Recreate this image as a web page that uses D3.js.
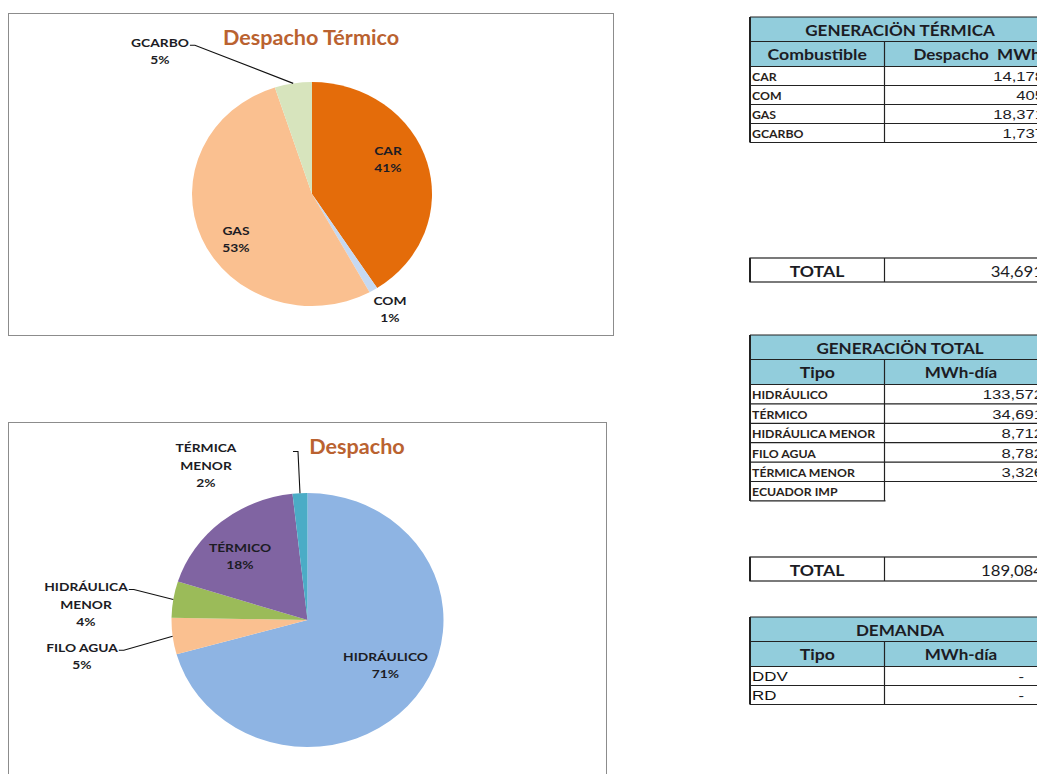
<!DOCTYPE html>
<html>
<head>
<meta charset="utf-8">
<script src="https://cdn.jsdelivr.net/npm/d3@7"></script>
<style>
  body { margin: 0; background: #fff; }
  svg { display: block; }
</style>
</head>
<body>
<div id="chart"></div>
<script>
// ---- data ----
const thermalFuels = ["CAR", "COM", "GAS", "GCARBO"];
const thermalMWh = [14178, 405, 18371, 1737];
const thermalPct = ["41%", "1%", "53%", "5%"];
const thermalTotal = "34,691";

// pie order as drawn (clockwise from 12 o'clock)
const dispatchTypes = ["HIDRÁULICO", "FILO AGUA", "HIDRÁULICA MENOR", "TÉRMICO", "TÉRMICA MENOR"];
const dispatchMWh = [133572, 8782, 8712, 34691, 3326];
const dispatchPct = ["71%", "5%", "4%", "18%", "2%"];

// table order
const genTypes = ["HIDRÁULICO", "TÉRMICO", "HIDRÁULICA MENOR", "FILO AGUA", "TÉRMICA MENOR", "ECUADOR IMP"];
const genMWh = [133572, 34691, 8712, 8782, 3326, null];
const genTotal = "189,084";

const demandTypes = ["DDV", "RD"];
const demandMWh = ["-", "-"];

// ---- setup ----
const width = 1037, height = 774;
const svg = d3.select("#chart").append("svg")
  .attr("width", width).attr("height", height)
  .attr("viewBox", [0, 0, width, height]);

const calibri = "Lato, 'Open Sans', sans-serif";
const arial = "'Liberation Sans', Arial, sans-serif";
const ink = "#1c1c24";
const titleColor = "#BA6230";
const fmt = d3.format(",");

// text helper, sx stretches horizontally
function put(g, x, y, s, o = {}) {
  return g.append("text")
    .attr("transform", `translate(${x},${y}) scale(${o.sx || 1},1)`)
    .attr("text-anchor", o.anchor || "middle")
    .attr("dominant-baseline", "central")
    .style("font-family", o.font || calibri)
    .style("font-weight", o.weight || "bold")
    .style("font-size", (o.size || 12) + "px")
    .style("white-space", "pre")
    .attr("fill", o.fill || ink)
    .text(s);
}

// ---- pie charts ----
function pieChart(cfg) {
  const g = svg.append("g");
  g.append("rect")
    .attr("x", cfg.box[0] + 0.5).attr("y", cfg.box[1] + 0.5)
    .attr("width", cfg.box[2]).attr("height", cfg.box[3])
    .attr("fill", "#fff").attr("stroke", "#8c8c8c");

  put(g, cfg.titlePos[0], cfg.titlePos[1], cfg.title, { size: 20, fill: titleColor, sx: 1.08 });

  const pie = d3.pie().sort(null).value(d => d)(cfg.values);
  const arc = d3.arc().innerRadius(0).outerRadius(cfg.rx);
  const color = d3.scaleOrdinal().domain(cfg.names).range(cfg.colors);
  const ky = cfg.ry / cfg.rx;

  g.append("g")
    .attr("transform", `translate(${cfg.cx},${cfg.cy}) scale(1,${ky})`)
    .selectAll("path")
    .data(pie)
    .join("path")
    .attr("d", arc)
    .attr("fill", (d, i) => color(cfg.names[i]));

  const lh = 17.5;
  pie.forEach((d, i) => {
    const name = cfg.names[i];
    const lines = (cfg.split[name] || [name]).slice();
    lines.push(cfg.pct[i]);
    const pos = cfg.labelAt[name];
    const lx = cfg.cx + pos[0], ly = cfg.cy + pos[1];
    const y0 = ly - (lines.length - 1) * lh / 2;
    let firstW = 0;
    lines.forEach((s, j) => {
      const t = put(g, lx, y0 + j * lh, s, { size: 12, sx: 1.15 });
      if (j === 0) firstW = t.node().getComputedTextLength() * 1.15;
    });
    if (cfg.leader[name]) {
      const mid = (d.startAngle + d.endAngle) / 2;
      const ex = cfg.cx + cfg.rx * Math.sin(mid);
      const ey = cfg.cy - cfg.ry * Math.cos(mid);
      let pts;
      if (cfg.leader[name] === "up") {
        pts = [[ex - 7, y0 + 4], [ex - 2, y0 + 4], [ex, ey]];
      } else {
        const sx0 = lx + firstW / 2 + 1;
        pts = [[sx0, y0 + 3], [sx0 + 5, y0 + 3], [ex, ey]];
      }
      g.append("path")
        .attr("d", d3.line()(pts))
        .attr("fill", "none").attr("stroke", "#111").attr("stroke-width", 1.1);
    }
  });
}

pieChart({
  box: [8, 13, 605, 322],
  title: "Despacho Térmico", titlePos: [311, 37],
  cx: 312, cy: 194, rx: 120, ry: 112,
  names: thermalFuels, values: thermalMWh, pct: thermalPct,
  colors: ["#E46C0A", "#C6D9F1", "#FAC090", "#D7E4BD"],
  split: {},
  labelAt: { CAR: [76, -35], COM: [78, 115], GAS: [-76, 45], GCARBO: [-152, -143] },
  leader: { GCARBO: "side" }
});

pieChart({
  box: [8, 422, 598, 380],
  title: "Despacho", titlePos: [357, 446],
  cx: 307.5, cy: 620, rx: 136, ry: 127,
  names: dispatchTypes, values: dispatchMWh, pct: dispatchPct,
  colors: ["#8EB4E3", "#FAC090", "#9BBB59", "#8064A2", "#4BACC6"],
  split: { "HIDRÁULICA MENOR": ["HIDRÁULICA", "MENOR"], "TÉRMICA MENOR": ["TÉRMICA", "MENOR"] },
  labelAt: {
    "HIDRÁULICO": [78, 45], "FILO AGUA": [-225.5, 36], "HIDRÁULICA MENOR": [-221.5, -16],
    "TÉRMICO": [-67.5, -64], "TÉRMICA MENOR": [-101.5, -155]
  },
  leader: { "FILO AGUA": "side", "HIDRÁULICA MENOR": "side", "TÉRMICA MENOR": "up" }
});

// ---- tables ----
const x0 = 750, xDiv = 884.5, xR = 1060;
const headFill = "#92CDDC";
const tg = svg.append("g");

function hline(y, a, b) {
  tg.append("line").attr("x1", a).attr("x2", b).attr("y1", y).attr("y2", y)
    .attr("stroke", "#222").attr("stroke-width", 1.2);
}
function vline(x, a, b, w = 1.2) {
  tg.append("line").attr("x1", x).attr("x2", x).attr("y1", a).attr("y2", b)
    .attr("stroke", "#222").attr("stroke-width", w);
}

function dataTable(t) {
  const yH = t.top, ySub = yH + 24.5, yRows = ySub + 25;
  tg.append("rect").attr("x", x0).attr("y", yH).attr("width", xR - x0).attr("height", yRows - yH)
    .attr("fill", headFill);
  put(tg, 900, yH + 12.5, t.title, { size: 15.5, sx: 1.1 });
  put(tg, (x0 + xDiv) / 2, ySub + 12.5, t.cols[0], { size: 15.5, sx: 1.14 });
  put(tg, t.col2x, ySub + 12.5, t.cols[1], { size: 15.5, sx: 1.1 });

  const y = d3.scaleBand().domain(d3.range(t.labels.length))
    .range([yRows, yRows + t.rowH * t.labels.length]);
  hline(yH, x0, xR); hline(ySub, x0, xR); hline(yRows, x0, xR);
  vline(xDiv, ySub, yRows);
  t.labels.forEach((s, i) => {
    const yy = y(i), filled = t.values[i] != null;
    put(tg, x0 + 2, yy + y.bandwidth() / 2 + 0.5, s,
      { size: t.labelSize || 11, anchor: "start", font: t.labelFont || calibri,
        weight: t.labelWeight || "bold", sx: t.labelSx || 1.12, fill: t.labelFill || "#2a1f1c" });
    if (filled) {
      const v = typeof t.values[i] === "number" ? fmt(t.values[i]) : t.values[i];
      put(tg, t.valueRight, yy + y.bandwidth() / 2 + 0.5, v,
        { size: 13, anchor: "end", font: arial, weight: "normal", sx: 1.28 });
    }
    hline(yy + y.bandwidth(), x0, filled ? xR : xDiv + 1);
  });
  const yEnd = yRows + t.rowH * t.labels.length;
  vline(x0, yH, yEnd, 2);
  vline(xDiv, yRows, yEnd);
}

function totalBox(top, value) {
  const h = 24;
  tg.append("rect").attr("x", x0).attr("y", top).attr("width", xR - x0).attr("height", h)
    .attr("fill", "#fff").attr("stroke", "#222").attr("stroke-width", 1.2);
  vline(x0, top, top + h, 2);
  vline(xDiv, top, top + h);
  put(tg, 817, top + h / 2 + 0.5, "TOTAL", { size: 16, sx: 1.1 });
  put(tg, 1043, top + h / 2 + 0.5, value, { size: 15.5, anchor: "end", weight: "normal", sx: 1.08 });
}

dataTable({
  top: 17, title: "GENERACIÖN TÉRMICA", cols: ["Combustible", "Despacho  MWh"], col2x: 977,
  labels: thermalFuels, values: thermalMWh, rowH: 19, valueRight: 1044
});
totalBox(258, thermalTotal);

dataTable({
  top: 335, title: "GENERACIÖN TOTAL", cols: ["Tipo", "MWh-día"], col2x: 961,
  labels: genTypes, values: genMWh, rowH: 19.4, valueRight: 1043
});
totalBox(557, genTotal);

dataTable({
  top: 617, title: "DEMANDA", cols: ["Tipo", "MWh-día"], col2x: 961,
  labels: demandTypes, values: demandMWh, rowH: 19, valueRight: 1024,
  labelSize: 13, labelFont: arial, labelWeight: "normal", labelSx: 1.3, labelFill: "#111"
});
</script>
</body>
</html>
